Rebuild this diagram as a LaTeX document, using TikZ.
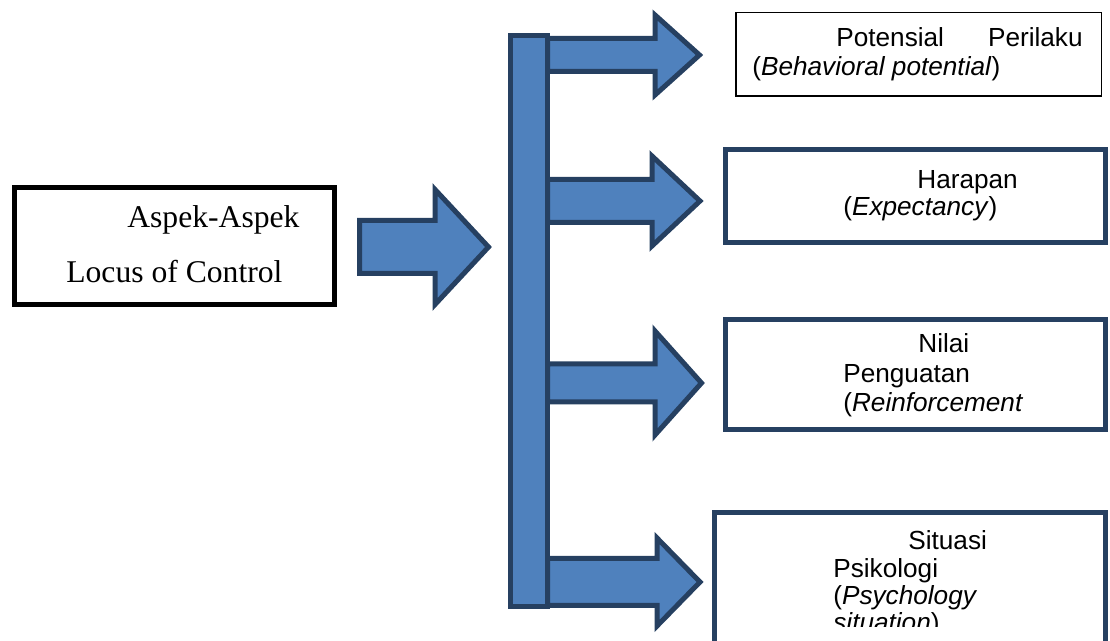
\documentclass[tikz,border=0pt]{standalone}
\usepackage{fontspec}
\setmainfont{Liberation Serif}
\newfontfamily\arialfont{Liberation Sans}
\usepackage{tikz}
\usetikzlibrary{positioning}

\definecolor{arrowfill}{RGB}{79,129,189}
\definecolor{arrowline}{RGB}{38,64,97}

\def\px{0.02cm}

% block arrow: start x, head base x, tip x, mid y, body half, head half
\newcommand{\blockarrow}[6]{%
  \draw[arrowshape] (#1,#4-#5) -- (#2,#4-#5) -- (#2,#4-#6) -- (#3,#4)
    -- (#2,#4+#6) -- (#2,#4+#5) -- (#1,#4+#5) -- cycle;}

\begin{document}
\begin{tikzpicture}[x = 0.02cm, y = -0.02cm,
    arrowshape/.style = {fill=arrowfill, draw=arrowline, line width=5*\px, line join=miter},
    blackbox/.style   = {draw=black, line width=5*\px, fill=white, inner sep=0pt},
    thinbox/.style    = {draw=black, line width=1.5*\px, fill=white, inner sep=0pt},
    navybox/.style    = {draw=arrowline, line width=5*\px, fill=white, inner sep=0pt},
    lbl/.style        = {anchor=base west, inner sep=0pt, font=\arialfont\fontsize{14.9}{17}\selectfont},
    serif/.style      = {anchor=base west, inner sep=0pt, font=\fontsize{18}{22}\selectfont}]

    \useasboundingbox (0,0) rectangle (1110,641);
    \clip (0,0) rectangle (1110,641);

    % left box
    \node[blackbox, minimum width=320*\px, minimum height=117*\px] (aspek) at (174.5,246) {};
    \node[serif] (aspek1) at (127,228) {Aspek-Aspek};
    \node[serif] (aspek2) at (66,283) {Locus of Control};

    \blockarrow{359.5}{435}{488.5}{247}{26.5}{57.5}

    % vertical bar and branches
    \draw[arrowshape] (510.5,35.5) rectangle (547.5,606.5);
    \blockarrow{547.5}{655}{699.5}{55}{16.5}{40}
    \blockarrow{547.5}{652}{700}{201}{21.5}{45}
    \blockarrow{547.5}{655}{701.5}{383}{19}{52}
    \blockarrow{547.5}{657}{700}{582}{23.5}{44}

    % right boxes
    \node[thinbox, minimum width=365.5*\px, minimum height=83.5*\px] (potensial) at (918.5,54.5) {};
    \node[lbl] (potensial1) at (836,47) {Potensial};
    \node[lbl, anchor=base east] (potensial2) at (1083,47) {Perilaku};
    \node[lbl] (potensial3) at (752,76) {(\textit{Behavioral potential})};

    \node[navybox, minimum width=380*\px, minimum height=93*\px] (harapan) at (915.5,196) {};
    \node[lbl] (harapan1) at (917,189) {Harapan};
    \node[lbl] (harapan2) at (843,216) {(\textit{Expectancy})};

    \node[navybox, minimum width=380*\px, minimum height=110*\px] (nilai) at (915.5,374.5) {};
    \node[lbl] (nilai1) at (918,353) {Nilai};
    \node[lbl] (nilai2) at (843,383) {Penguatan};
    \node[lbl] (nilai3) at (843,412) {(\textit{Reinforcement}};

    \node[navybox, minimum width=391*\px, minimum height=185*\px] (situasi) at (910,605) {};
    \begin{scope}
        \clip (712,510) rectangle (1108,627);
        \node[lbl] (situasi1) at (908,550) {Situasi};
        \node[lbl] (situasi2) at (833,578) {Psikologi};
        \node[lbl] (situasi3) at (833,605) {(\textit{Psychology}};
        \node[lbl] (situasi4) at (833,632) {\textit{situation})};
    \end{scope}
\end{tikzpicture}
\end{document}
